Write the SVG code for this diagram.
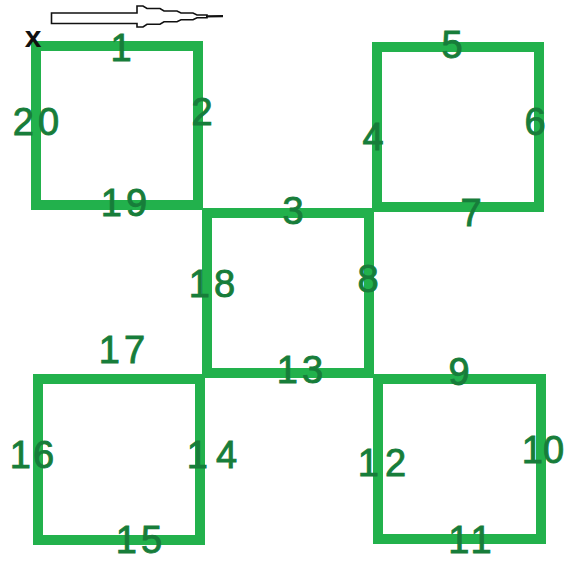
<svg xmlns="http://www.w3.org/2000/svg" width="567" height="563" viewBox="0 0 567 563">
<style>
.sq{fill:none;stroke:#22b14c;stroke-width:10;stroke-linejoin:miter}
.n{font-family:"Liberation Sans",Arial,sans-serif;font-size:38px;fill:#177d3a;stroke:#177d3a;stroke-width:0.9;text-anchor:middle;dominant-baseline:central}
.x{font-family:"Liberation Sans",Arial,sans-serif;font-size:30px;font-weight:bold;fill:#111;text-anchor:middle;dominant-baseline:central}
</style>
<rect width="567" height="563" fill="#fff"/>
<g id="sq-top-left"><rect class="sq" x="36" y="46" width="162" height="159"/></g>
<g id="sq-top-right"><rect class="sq" x="377" y="47" width="162" height="160"/></g>
<g id="sq-bottom-left"><rect class="sq" x="38" y="379" width="162" height="161"/></g>
<g id="sq-bottom-right"><rect class="sq" x="378" y="379" width="163" height="160"/></g>
<g id="sq-center"><rect class="sq" x="207" y="213" width="162" height="160"/></g>
<g id="connectors">
<polygon points="51.5,13 137,13 137,6 143,6 147,8.5 160,8.5 164,11 177,11 181,13 193,13 197,15 207,15 207,17.8 197,17.8 193,19.8 181,19.8 177,21.8 164,21.8 160,24.3 147,24.3 143,27 137,27 137,23.5 51.5,23.5" fill="#fff" stroke="#111" stroke-width="1.6" stroke-linejoin="miter"/>
<line x1="206" y1="16.4" x2="223" y2="16.2" stroke="#111" stroke-width="2.2"/>
</g>
<g id="labels">
<text class="x" x="33" y="36">x</text>
<text class="n" x="121" y="48">1</text>
<text class="n" x="202" y="112">2</text>
<text class="n" x="293" y="211">3</text>
<text class="n" x="373" y="137">4</text>
<text class="n" x="452" y="45">5</text>
<text class="n" x="535" y="122">6</text>
<text class="n" x="471" y="213">7</text>
<text class="n" x="368" y="279">8</text>
<text class="n" x="459" y="372">9</text>
<text class="n" x="543" y="450">10</text>
<text class="n" x="472" y="540" letter-spacing="4">11</text>
<text class="n" x="385" y="463" letter-spacing="6">12</text>
<text class="n" x="302" y="370" letter-spacing="4">13</text>
<text class="n" x="216" y="455" letter-spacing="8">14</text>
<text class="n" x="141" y="540" letter-spacing="4">15</text>
<text class="n" x="33" y="455" letter-spacing="2">16</text>
<text class="n" x="124" y="350" letter-spacing="4">17</text>
<text class="n" x="214" y="284" letter-spacing="4">18</text>
<text class="n" x="126" y="203" letter-spacing="4">19</text>
<text class="n" x="38" y="122" letter-spacing="4">20</text>
</g>
</svg>
